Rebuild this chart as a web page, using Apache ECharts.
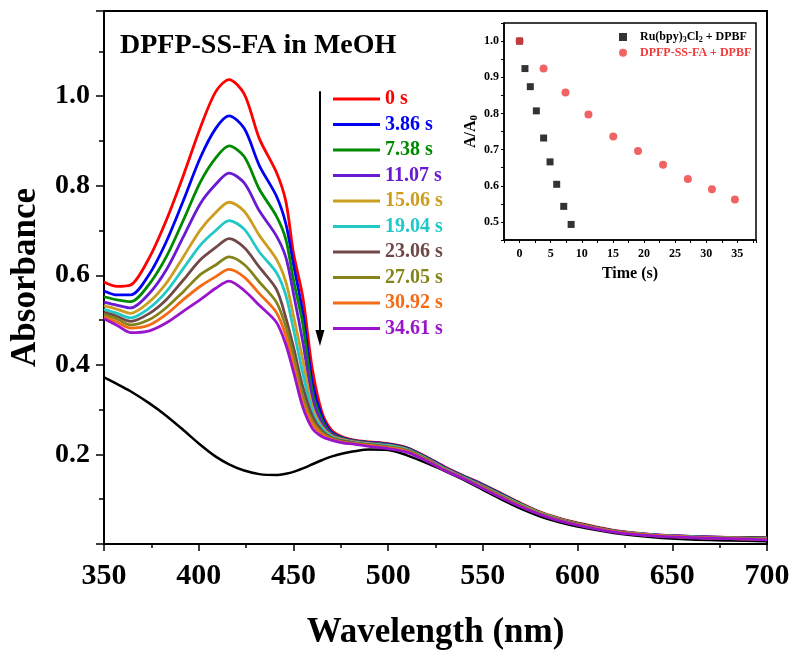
<!DOCTYPE html>
<html>
<head>
<meta charset="utf-8">
<script src="https://cdn.jsdelivr.net/npm/echarts@6/dist/echarts.min.js"></script>
<style>
html, body { margin: 0; padding: 0; background: #fff; }
#chart { width: 794px; height: 650px; }
</style>
</head>
<body>
<div id="chart"></div>
<script>
// wavelengths (nm) shared by all spectra
const WAVELENGTHS = [350, 357, 364, 374, 383, 392, 401, 409, 416, 424, 432, 441, 446, 450, 455, 460, 465, 470, 476, 482, 490, 500, 510, 520, 530, 540, 550, 560, 570, 580, 590, 600, 620, 640, 660, 680, 700];

// absorbance of DPFP-SS-FA + DPBF after each irradiation time
const ABS_0 = [0.585, 0.575, 0.578, 0.640, 0.724, 0.824, 0.931, 1.010, 1.037, 1.005, 0.905, 0.830, 0.765, 0.650, 0.550, 0.390, 0.295, 0.255, 0.239, 0.232, 0.228, 0.224, 0.215, 0.195, 0.172, 0.152, 0.133, 0.112, 0.091, 0.072, 0.058, 0.047, 0.030, 0.021, 0.017, 0.015, 0.014];
const ABS_386 = [0.565, 0.556, 0.556, 0.603, 0.676, 0.768, 0.864, 0.928, 0.956, 0.928, 0.845, 0.777, 0.715, 0.625, 0.515, 0.360, 0.285, 0.250, 0.237, 0.231, 0.227, 0.223, 0.214, 0.194, 0.171, 0.151, 0.132, 0.111, 0.090, 0.071, 0.057, 0.046, 0.029, 0.021, 0.017, 0.015, 0.013];
const ABS_738 = [0.552, 0.545, 0.541, 0.581, 0.642, 0.724, 0.809, 0.862, 0.889, 0.865, 0.792, 0.732, 0.680, 0.590, 0.490, 0.340, 0.277, 0.247, 0.236, 0.230, 0.226, 0.222, 0.213, 0.193, 0.170, 0.150, 0.131, 0.110, 0.089, 0.071, 0.057, 0.046, 0.029, 0.020, 0.016, 0.014, 0.013];
const ABS_1107 = [0.540, 0.533, 0.527, 0.560, 0.613, 0.687, 0.761, 0.803, 0.828, 0.806, 0.744, 0.688, 0.640, 0.560, 0.450, 0.325, 0.270, 0.245, 0.234, 0.229, 0.225, 0.221, 0.212, 0.192, 0.169, 0.149, 0.130, 0.109, 0.088, 0.070, 0.056, 0.045, 0.029, 0.020, 0.016, 0.014, 0.012];
const ABS_1506 = [0.532, 0.524, 0.515, 0.541, 0.583, 0.642, 0.702, 0.740, 0.763, 0.743, 0.689, 0.636, 0.585, 0.510, 0.410, 0.305, 0.262, 0.242, 0.233, 0.228, 0.224, 0.220, 0.211, 0.191, 0.168, 0.148, 0.129, 0.108, 0.088, 0.070, 0.056, 0.045, 0.028, 0.020, 0.016, 0.014, 0.012];
const ABS_1904 = [0.524, 0.515, 0.505, 0.527, 0.564, 0.616, 0.668, 0.700, 0.722, 0.703, 0.652, 0.606, 0.555, 0.480, 0.380, 0.295, 0.258, 0.240, 0.231, 0.227, 0.223, 0.219, 0.210, 0.190, 0.167, 0.148, 0.128, 0.107, 0.087, 0.069, 0.055, 0.044, 0.028, 0.020, 0.016, 0.013, 0.012];
const ABS_2306 = [0.517, 0.508, 0.497, 0.515, 0.546, 0.590, 0.635, 0.662, 0.682, 0.662, 0.618, 0.569, 0.505, 0.440, 0.350, 0.285, 0.253, 0.238, 0.230, 0.226, 0.222, 0.217, 0.209, 0.189, 0.166, 0.147, 0.127, 0.106, 0.086, 0.068, 0.055, 0.044, 0.028, 0.019, 0.015, 0.013, 0.011];
const ABS_2705 = [0.512, 0.502, 0.489, 0.501, 0.528, 0.564, 0.602, 0.623, 0.641, 0.624, 0.585, 0.540, 0.485, 0.420, 0.330, 0.275, 0.249, 0.236, 0.228, 0.225, 0.221, 0.216, 0.208, 0.188, 0.165, 0.146, 0.126, 0.105, 0.085, 0.068, 0.054, 0.043, 0.027, 0.019, 0.015, 0.013, 0.011];
const ABS_3092 = [0.507, 0.495, 0.482, 0.489, 0.513, 0.546, 0.576, 0.597, 0.613, 0.596, 0.559, 0.517, 0.465, 0.400, 0.315, 0.268, 0.245, 0.234, 0.227, 0.224, 0.220, 0.215, 0.207, 0.187, 0.165, 0.146, 0.125, 0.104, 0.084, 0.067, 0.053, 0.043, 0.027, 0.019, 0.015, 0.012, 0.010];
const ABS_3461 = [0.503, 0.488, 0.472, 0.476, 0.494, 0.520, 0.546, 0.571, 0.587, 0.566, 0.533, 0.495, 0.445, 0.385, 0.305, 0.258, 0.240, 0.232, 0.226, 0.223, 0.218, 0.213, 0.205, 0.186, 0.164, 0.145, 0.124, 0.103, 0.083, 0.066, 0.052, 0.042, 0.026, 0.018, 0.014, 0.012, 0.009];
// black reference spectrum
const ABS_REF = [0.372, 0.357, 0.341, 0.314, 0.286, 0.254, 0.221, 0.195, 0.178, 0.164, 0.156, 0.154, 0.157, 0.161, 0.169, 0.178, 0.187, 0.195, 0.202, 0.207, 0.211, 0.210, 0.198, 0.181, 0.163, 0.143, 0.121, 0.099, 0.079, 0.062, 0.049, 0.039, 0.024, 0.015, 0.010, 0.008, 0.006];

const TIME_LABELS = ['0 s', '3.86 s', '7.38 s', '11.07 s', '15.06 s', '19.04 s', '23.06 s', '27.05 s', '30.92 s', '34.61 s'];
const SPECTRA = [ABS_0, ABS_386, ABS_738, ABS_1107, ABS_1506, ABS_1904, ABS_2306, ABS_2705, ABS_3092, ABS_3461];

// arrow (wavelength, from, to)
const ARROW_X = 464;
const ARROW_TOP = 1.011;
const ARROW_BOTTOM = 0.46;

// inset: A/A0 vs time
const RU_NAME = 'Ru(bpy)3Cl2 + DPBF';
const RU_TIME = [0, 0.87, 1.73, 2.7, 3.87, 4.9, 5.97, 7.1, 8.29];
const RU_RATIO = [1.0, 0.924, 0.874, 0.807, 0.732, 0.666, 0.604, 0.543, 0.493];
const DPFP_NAME = 'DPFP-SS-FA + DPBF';
const DPFP_TIME = [0, 3.86, 7.38, 11.07, 15.06, 19.04, 23.06, 27.05, 30.92, 34.61];
const DPFP_RATIO = [1.0, 0.924, 0.858, 0.797, 0.736, 0.696, 0.658, 0.619, 0.590, 0.562];

const COLORS = ['#ff0000', '#0000f5', '#008a00', '#6a1bd2', '#cc9d1e', '#22c8c8', '#704848', '#84841a', '#f56a14', '#9a14cc'];
const FONT = '"Liberation Serif", "Times New Roman", serif';
const RED = '#ee3b3b';

const chart = echarts.init(document.getElementById('chart'));

function zip(xs, ys) {
    return xs.map((x, i) => [x, ys[i]]);
}

const series = [
    {
        name: 'ref',
        type: 'line',
        data: zip(WAVELENGTHS, ABS_REF),
        smooth: 0.3,
        showSymbol: false,
        lineStyle: { color: '#000', width: 2.5 },
        itemStyle: { color: '#000' },
        markLine: {
            silent: true,
            symbol: ['none', 'triangle'],
            symbolSize: [9, 16],
            lineStyle: { color: '#000', width: 2, type: 'solid' },
            label: { show: false },
            emphasis: { disabled: true },
            data: [[{ coord: [ARROW_X, ARROW_TOP] }, { coord: [ARROW_X, ARROW_BOTTOM] }]],
        },
    },
];
SPECTRA.forEach((ys, i) => {
    series.push({
        name: TIME_LABELS[i],
        type: 'line',
        data: zip(WAVELENGTHS, ys),
        smooth: 0.3,
        showSymbol: false,
        lineStyle: { color: COLORS[i], width: 2.8 },
        itemStyle: { color: COLORS[i] },
    });
});
series.push({
    name: RU_NAME,
    type: 'scatter',
    xAxisIndex: 1,
    yAxisIndex: 1,
    symbol: 'rect',
    symbolSize: 7,
    itemStyle: { color: '#000' },
    data: zip(RU_TIME, RU_RATIO),
});
series.push({
    name: DPFP_NAME,
    type: 'scatter',
    xAxisIndex: 1,
    yAxisIndex: 1,
    symbol: 'circle',
    symbolSize: 8,
    itemStyle: { color: RED },
    data: zip(DPFP_TIME, DPFP_RATIO),
});

const boldText = (size) => ({ fontFamily: FONT, fontWeight: 'bold', fontSize: size, color: '#000' });

const option = {
    animation: false,
    title: {
        text: 'DPFP-SS-FA in MeOH',
        left: 120,
        top: 32,
        padding: 0,
        textStyle: boldText(28),
    },
    legend: [
        {
            orient: 'vertical',
            left: 333,
            top: 89,
            padding: 0,
            itemWidth: 47,
            itemHeight: 3,
            itemGap: 5.5,
            icon: 'rect',
            selectedMode: false,
            textStyle: Object.assign(boldText(20), { lineHeight: 20 }),
            data: TIME_LABELS.map((name, i) => ({ name: name, textStyle: { color: COLORS[i] } })),
        },
        {
            orient: 'vertical',
            left: 619,
            top: 31,
            padding: 0,
            itemWidth: 8,
            itemHeight: 8,
            itemGap: 2.7,
            selectedMode: false,
            data: [RU_NAME, DPFP_NAME],
            formatter: (name) => name === RU_NAME
                ? '{g| }{n|Ru(bpy)}{s|3}{n|Cl}{s|2}{n| + DPBF}'
                : '{g| }{r|DPFP-SS-FA + DPBF}',
            textStyle: {
                rich: {
                    g: { width: 8, fontSize: 12, lineHeight: 14 },
                    n: { fontFamily: FONT, fontWeight: 'bold', fontSize: 12, lineHeight: 14, color: '#000' },
                    s: { fontFamily: FONT, fontWeight: 'bold', fontSize: 8, lineHeight: 8, verticalAlign: 'bottom', color: '#000' },
                    r: { fontFamily: FONT, fontWeight: 'bold', fontSize: 12, lineHeight: 14, color: RED },
                },
            },
        },
    ],
    grid: [
        { left: 104, right: 27, top: 11, bottom: 106, show: true, borderColor: '#000', borderWidth: 2, outerBoundsMode: 'none' },
        { left: 504, top: 23, width: 252, height: 217, show: true, borderColor: '#000', borderWidth: 1.5, backgroundColor: '#fff', outerBoundsMode: 'none' },
    ],
    xAxis: [
        {
            type: 'value',
            gridIndex: 0,
            min: 350,
            max: 700,
            interval: 50,
            name: 'Wavelength (nm)',
            nameLocation: 'middle',
            nameGap: 71,
            nameTextStyle: boldText(35),
            axisLine: { onZero: false, lineStyle: { color: '#000', width: 2 } },
            axisTick: { inside: false, length: 7, lineStyle: { color: '#000', width: 1.5 } },
            minorTick: { show: true, splitNumber: 2, length: 4, lineStyle: { color: '#000', width: 1.5 } },
            axisLabel: Object.assign(boldText(30), { margin: 17 }),
            splitLine: { show: false },
        },
        {
            type: 'value',
            gridIndex: 1,
            min: -2.5,
            max: 38,
            interval: 2.5,
            name: 'Time (s)',
            nameLocation: 'middle',
            nameGap: 26,
            nameTextStyle: boldText(16),
            axisLine: { onZero: false, lineStyle: { color: '#000', width: 1.5 } },
            axisTick: { inside: false, length: 3, lineStyle: { color: '#000', width: 1 } },
            axisLabel: Object.assign(boldText(12), {
                margin: 8,
                formatter: (v) => {
                    const k = Math.round(v / 5);
                    return (Math.abs(v - 5 * k) < 1e-6 && k >= 0) ? String(5 * k) : '';
                },
            }),
            splitLine: { show: false },
        },
    ],
    yAxis: [
        {
            type: 'value',
            gridIndex: 0,
            min: 0,
            max: 1.19,
            interval: 0.2,
            name: 'Absorbance',
            nameLocation: 'middle',
            nameGap: 61,
            nameTextStyle: boldText(35),
            axisLine: { onZero: false, lineStyle: { color: '#000', width: 2 } },
            axisTick: { inside: false, length: 8, lineStyle: { color: '#000', width: 1.5 } },
            minorTick: { show: true, splitNumber: 2, length: 5, lineStyle: { color: '#000', width: 1.5 } },
            axisLabel: Object.assign(boldText(28), {
                margin: 14,
                formatter: (v) => {
                    const k = Math.round(v * 10);
                    return (Math.abs(v * 10 - k) < 1e-6 && k % 2 === 0 && k > 0 && k <= 10) ? v.toFixed(1) : '';
                },
            }),
            splitLine: { show: false },
        },
        {
            type: 'value',
            gridIndex: 1,
            min: 0.45,
            max: 1.05,
            interval: 0.05,
            name: '{a|A/A}{b|0}',
            nameLocation: 'middle',
            nameGap: 22,
            nameTextStyle: {
                rich: {
                    a: { fontFamily: FONT, fontWeight: 'bold', fontSize: 16, lineHeight: 18, color: '#000' },
                    b: { fontFamily: FONT, fontWeight: 'bold', fontSize: 11, lineHeight: 11, verticalAlign: 'bottom', color: '#000' },
                },
            },
            axisLine: { onZero: false, lineStyle: { color: '#000', width: 1.5 } },
            axisTick: { inside: false, length: 3, lineStyle: { color: '#000', width: 1 } },
            axisLabel: Object.assign(boldText(12), {
                margin: 5,
                formatter: (v) => {
                    const k = Math.round(v * 10);
                    return Math.abs(v * 10 - k) < 1e-6 ? (k / 10).toFixed(1) : '';
                },
            }),
            splitLine: { show: false },
        },
    ],
    series: series,
};

chart.setOption(option);
</script>
</body>
</html>
